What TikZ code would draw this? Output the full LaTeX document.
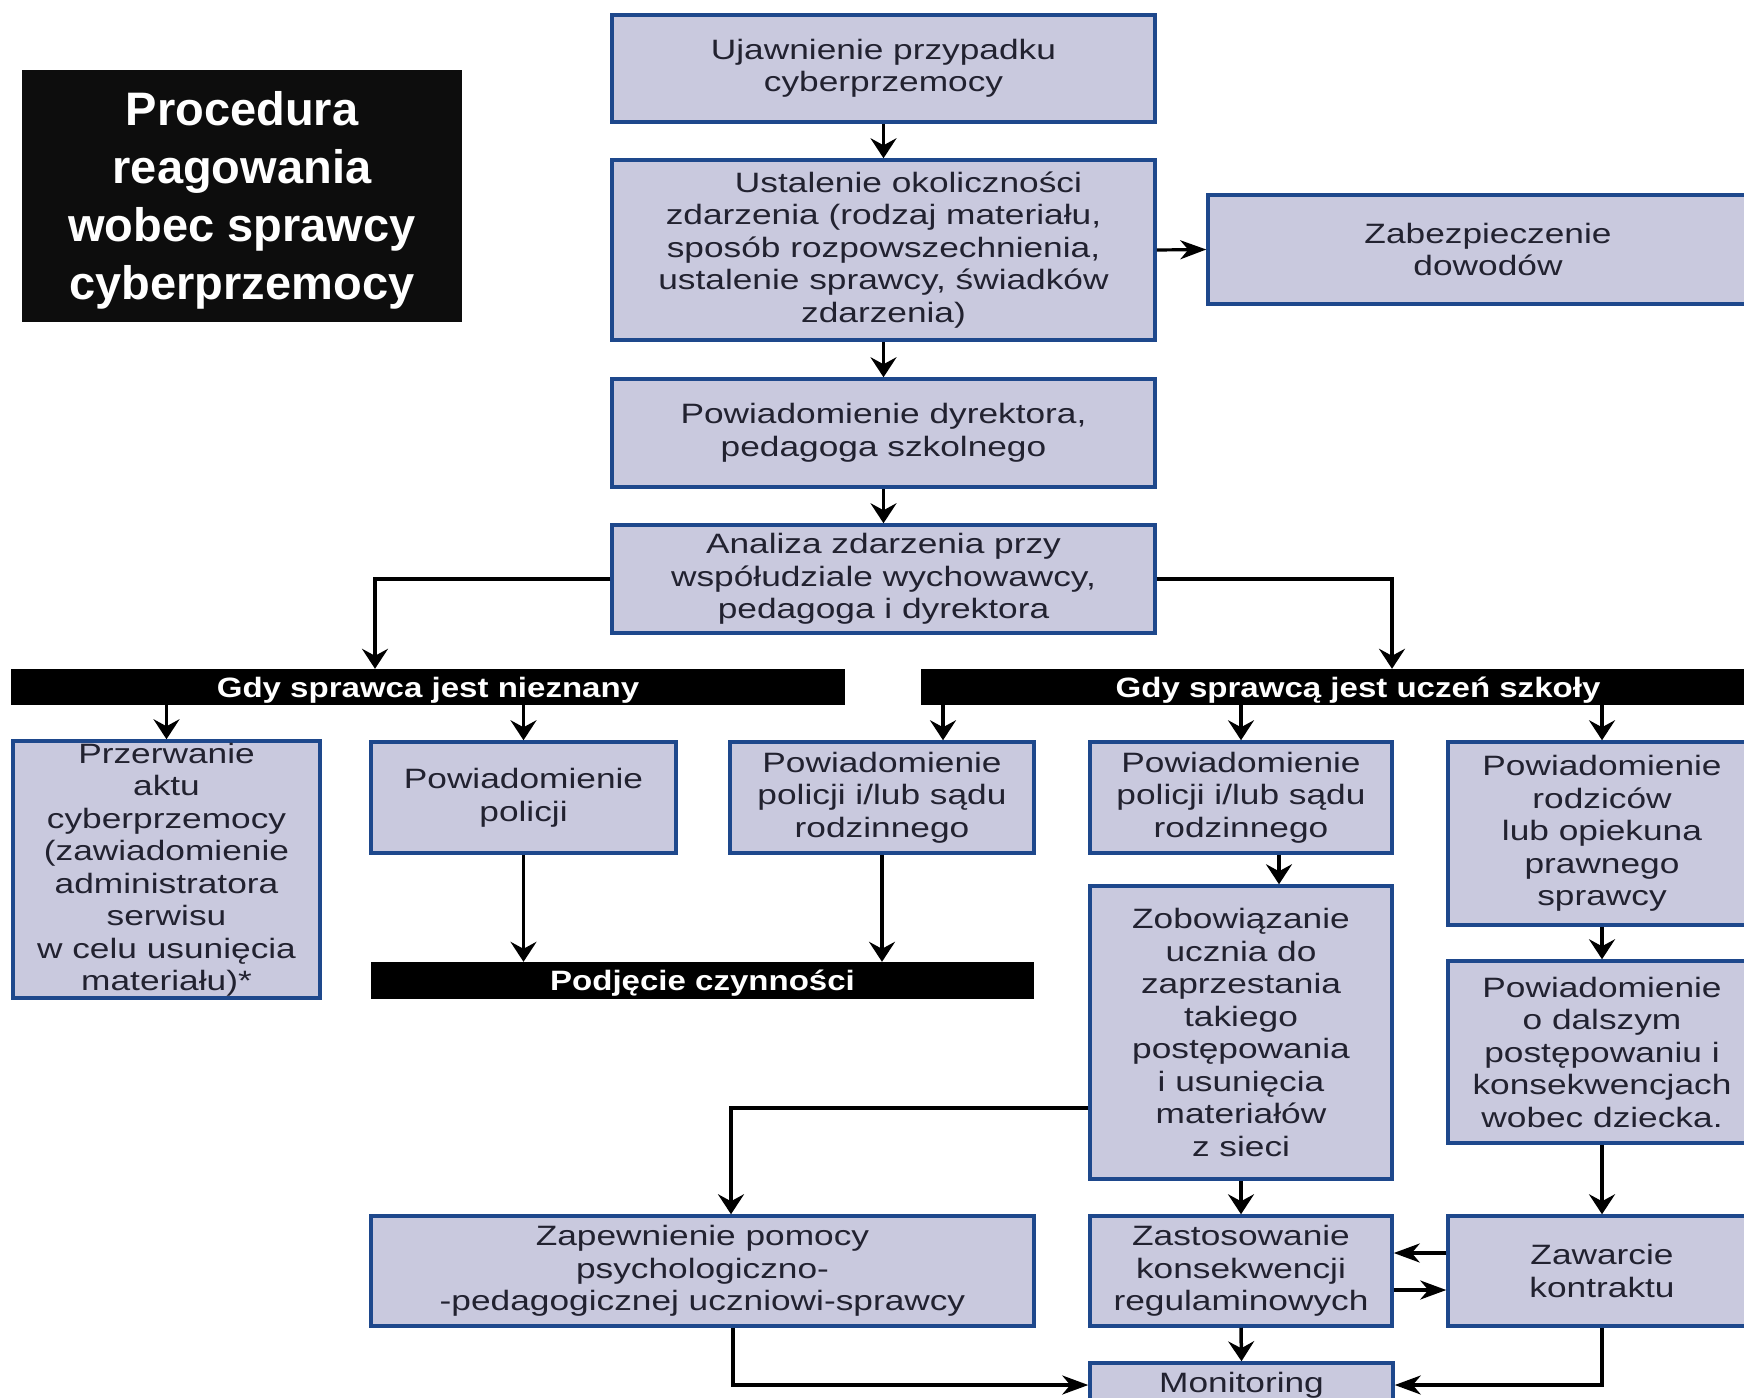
\documentclass[tikz,border=0pt]{standalone}
\usepackage{fontspec}
\setmainfont{Liberation Sans}
\newfontfamily\boxfont{Liberation Sans}[FakeStretch=1.26]
\newfontfamily\barfont{Liberation Sans}[FakeStretch=1.18]
\usetikzlibrary{arrows.meta}
\definecolor{boxfill}{RGB}{201,201,222}
\definecolor{boxline}{RGB}{30,72,140}
\definecolor{txt}{RGB}{34,34,48}
\definecolor{titlebg}{RGB}{13,13,13}
\begin{document}
\begin{tikzpicture}[x=1pt,y=-1pt,
  box/.style={draw=boxline, line width=3.5pt, fill=boxfill, text=txt, align=center, inner sep=0pt,
    font=\boxfont\fontsize{28pt}{32.5pt}\selectfont},
  bar/.style={fill=black, text=white, inner sep=0pt, text height=23pt, text depth=3pt,
    font=\barfont\bfseries\fontsize{28pt}{32pt}\selectfont},
  titlebox/.style={fill=titlebg, text=white, align=center, inner sep=0pt,
    font=\bfseries\fontsize{47pt}{58pt}\selectfont},
  varr/.style={line width=3.5pt, -{Stealth[length=20pt,width=26pt,inset=7pt]}},
  harr/.style={line width=3.2pt, -{Stealth[length=26pt,width=19pt,inset=8pt]}}]
\useasboundingbox (0,0) rectangle (1744,1397);
\clip (0,0) rectangle (1744,1397);
\fill[white] (0,0) rectangle (1744,1397);

% title
\fill[titlebg] (22,70) rectangle (462,322);
\node[titlebox, fill=none] (title) at (242,200)
  {Procedura\\reagowania\\wobec sprawcy\\cyberprzemocy};

% main column
\node[box, minimum width=543pt, minimum height=107pt] (b1) at (883.5,68.5)
  {Ujawnienie przypadku\\cyberprzemocy};
\node[box, minimum width=543pt, minimum height=180pt] (b2) at (883.5,250)
  {\hspace*{50pt}Ustalenie okoliczności\\zdarzenia (rodzaj materiału,\\sposób rozpowszechnienia,\\ustalenie sprawcy, świadków\\zdarzenia)};
\node[box, minimum width=560pt, minimum height=109pt] (zab) at (1488,249.5)
  {Zabezpieczenie\\dowodów};
\node[box, minimum width=543pt, minimum height=108pt] (b3) at (883.5,433)
  {Powiadomienie dyrektora,\\pedagoga szkolnego};
\node[box, minimum width=543pt, minimum height=108pt] (b4) at (883.5,579)
  {Analiza zdarzenia przy\\współudziale wychowawcy,\\pedagoga i dyrektora};

% bars
\node[bar, minimum width=834pt, minimum height=36pt] (bar1) at (428,687) {Gdy sprawca jest nieznany};
\node[bar, minimum width=874pt, minimum height=36pt] (bar2) at (1358,687) {Gdy sprawcą jest uczeń szkoły};

% second level
\node[box, minimum width=307pt, minimum height=257pt] (prz) at (166.5,869.5)
  {Przerwanie\\aktu\\cyberprzemocy\\(zawiadomienie\\administratora\\serwisu\\w celu usunięcia\\materiału)*};
\node[box, minimum width=305pt, minimum height=111pt] (pol) at (523.5,797.5)
  {Powiadomienie\\policji};
\node[box, minimum width=304pt, minimum height=111pt] (sadL) at (882,797.5)
  {Powiadomienie\\policji i/lub sądu\\rodzinnego};
\node[box, minimum width=302pt, minimum height=111pt] (sadM) at (1241,797.5)
  {Powiadomienie\\policji i/lub sądu\\rodzinnego};
\node[box, minimum width=308pt, minimum height=183pt] (rodz) at (1602,833.5)
  {Powiadomienie\\rodziców\\lub opiekuna\\prawnego\\sprawcy};

\node[bar, minimum width=663pt, minimum height=37pt] (podj) at (702.5,980.5) {Podjęcie czynności};

\node[box, minimum width=302pt, minimum height=293pt] (zob) at (1241,1032.5)
  {Zobowiązanie\\ucznia do\\zaprzestania\\takiego\\postępowania\\i usunięcia\\materiałów\\z sieci};
\node[box, minimum width=308pt, minimum height=182pt] (dal) at (1602,1052)
  {Powiadomienie\\o dalszym\\postępowaniu i\\konsekwencjach\\wobec dziecka.};

\node[box, minimum width=663pt, minimum height=110pt] (zap) at (702.5,1271)
  {Zapewnienie pomocy\\psychologiczno-\\-pedagogicznej uczniowi-sprawcy};
\node[box, minimum width=302pt, minimum height=110pt] (zas) at (1241,1271)
  {Zastosowanie\\konsekwencji\\regulaminowych};
\node[box, minimum width=308pt, minimum height=110pt] (zaw) at (1602,1271)
  {Zawarcie\\kontraktu};
\node[box, minimum width=303pt, minimum height=44pt] (mon) at (1241.5,1385)
  {Monitoring};

% helper coordinates
\coordinate (kL) at (375,0);
\coordinate (kR) at (1392,0);
\coordinate (k943) at (943,0);
\coordinate (k1279) at (1279,0);
\coordinate (kzy) at (0,1108);
\coordinate (kzx) at (731,0);
\coordinate (ky1) at (0,1253);
\coordinate (ky2) at (0,1290);
\coordinate (kzap) at (733,0);

% connectors
\draw[varr] (b1) -- (b2);
\draw[harr] (b2.east) -- (zab.west);
\draw[varr] (b2) -- (b3);
\draw[varr] (b3) -- (b4);
\draw[varr] (b4.west) -| (kL |- bar1.north);
\draw[varr] (b4.east) -| (kR |- bar2.north);
\draw[varr] (bar1.south -| prz.north) -- (prz.north);
\draw[varr] (bar1.south -| pol.north) -- (pol.north);
\draw[varr] (bar2.south -| k943) -- (sadL.north -| k943);
\draw[varr] (bar2.south -| sadM.north) -- (sadM.north);
\draw[varr] (bar2.south -| rodz.north) -- (rodz.north);
\draw[varr] (pol.south) -- (podj.north -| pol.south);
\draw[varr] (sadL.south) -- (podj.north -| sadL.south);
\draw[varr] (sadM.south -| k1279) -- (zob.north -| k1279);
\draw[varr] (zob.west |- kzy) -| (zap.north -| kzx);
\draw[varr] (zob.south) -- (zas.north);
\draw[varr] (rodz.south) -- (dal.north);
\draw[varr] (dal.south) -- (zaw.north);
\draw[harr] (zaw.west |- ky1) -- (zas.east |- ky1);
\draw[harr] (zas.east |- ky2) -- (zaw.west |- ky2);
\draw[varr] (zas.south) -- (mon.north);
\draw[harr] (zap.south -| kzap) |- (mon.west);
\draw[harr] (zaw.south) |- (mon.east);
\end{tikzpicture}
\end{document}
